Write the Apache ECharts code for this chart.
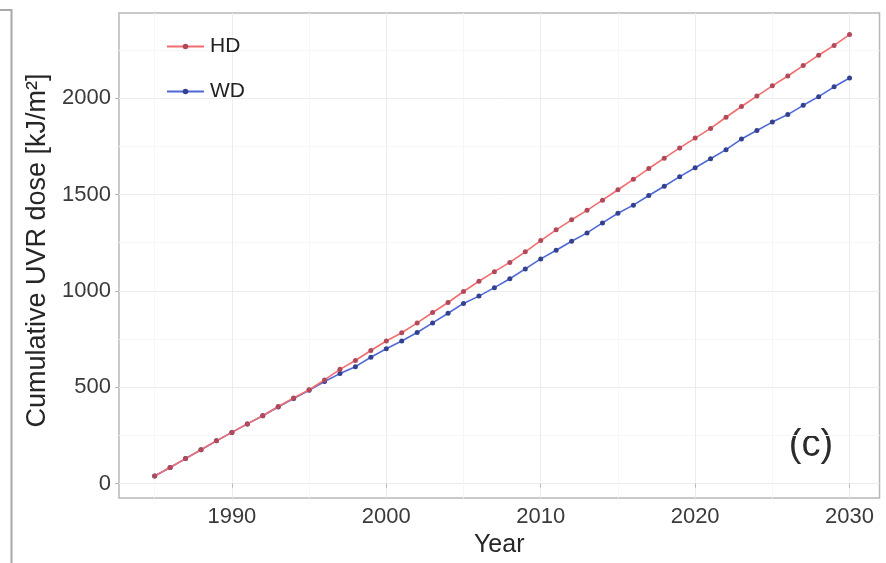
<!DOCTYPE html>
<html><head><meta charset="utf-8">
<script src="https://cdn.jsdelivr.net/npm/echarts@6/dist/echarts.min.js"></script>
<style>html,body{margin:0;padding:0;background:#fff}#c{width:886px;height:563px}</style>
</head><body><div id="c"></div>
<script>
const years = [1985,1986,1987,1988,1989,1990,1991,1992,1993,1994,1995,1996,1997,1998,1999,2000,2001,2002,2003,2004,2005,2006,2007,2008,2009,2010,2011,2012,2013,2014,2015,2016,2017,2018,2019,2020,2021,2022,2023,2024,2025,2026,2027,2028,2029,2030];
const hd = [40,84,130,176,222,266,310,352,400,444,487,538,593,639,691,740,783,834,888,940,997,1050,1100,1148,1203,1261,1317,1369,1418,1471,1525,1579,1635,1689,1742,1793,1843,1901,1957,2011,2064,2115,2169,2223,2274,2330];
const wd = [40,84,130,176,222,266,310,352,398,442,484,530,571,607,656,700,740,784,834,884,935,973,1017,1063,1114,1166,1211,1258,1301,1353,1403,1445,1495,1543,1593,1639,1686,1733,1788,1832,1876,1915,1963,2008,2059,2105];
const xMajorTicks = [1990,2000,2010,2020,2030];
const xMinorTicks = [1985,1995,2005,2015,2025];
const yMajorTicks = [0,500,1000,1500,2000];
const yMinorTicks = [250,750,1250,1750,2250];
const seriesNames = ['HD','WD'];

const font = 'Liberation Sans, Arial, Helvetica, sans-serif';
const xRange = [1982.69, 2031.94];
const yRange = [-75, 2442];
const chart = echarts.init(document.getElementById('c'), null, {renderer:'canvas'});
const pairs = arr => years.map((y,i)=>[y,arr[i]]);
const labelStyle = {fontFamily:font,fontSize:22,color:'#3a3a3a',formatter:v=>String(v)};
chart.setOption({
  animation:false,
  backgroundColor:'#ffffff',
  grid:{left:119,top:13,right:6.5,bottom:55,show:true,borderColor:'#b8b8b8',borderWidth:1.5,backgroundColor:'transparent'},
  legend:{
    orient:'vertical',left:166,top:36,padding:0,itemGap:24,itemWidth:37,itemHeight:7,
    data:seriesNames,
    textStyle:{fontFamily:font,fontSize:21,color:'#222',padding:[0,0,0,1]}
  },
  xAxis:[{
    type:'value',min:xRange[0],max:xRange[1],
    name:'Year',nameLocation:'middle',nameGap:31,
    nameTextStyle:{fontFamily:font,fontSize:25,color:'#262626'},
    axisLine:{show:false},
    axisTick:{show:true,length:4,customValues:xMajorTicks,lineStyle:{color:'#b8b8b8',width:1}},
    axisLabel:{customValues:xMajorTicks,margin:8,...labelStyle},
    splitLine:{show:true,lineStyle:{color:'#ececec',width:1}}
  },{
    type:'value',min:xRange[0],max:xRange[1],position:'top',
    axisLine:{show:false},
    axisTick:{show:false,customValues:xMinorTicks},
    axisLabel:{show:false,customValues:xMinorTicks},
    splitLine:{show:true,lineStyle:{color:'#f6f6f6',width:1}}
  }],
  yAxis:[{
    type:'value',min:yRange[0],max:yRange[1],
    name:'Cumulative UVR dose [kJ/m\u00b2]',nameLocation:'middle',nameGap:67,nameRotate:90,
    nameTextStyle:{fontFamily:font,fontSize:27,color:'#262626',padding:[0,0,0,10]},
    axisLine:{show:false},
    axisTick:{show:true,length:4,customValues:yMajorTicks,lineStyle:{color:'#b8b8b8',width:1}},
    axisLabel:{customValues:yMajorTicks,margin:8,...labelStyle},
    splitLine:{show:true,lineStyle:{color:'#ececec',width:1}}
  },{
    type:'value',min:yRange[0],max:yRange[1],position:'right',
    axisLine:{show:false},
    axisTick:{show:false,customValues:yMinorTicks},
    axisLabel:{show:false,customValues:yMinorTicks},
    splitLine:{show:true,lineStyle:{color:'#f6f6f6',width:1}}
  }],
  series:[{
    name:seriesNames[0],type:'line',xAxisIndex:0,yAxisIndex:0,data:pairs(hd),
    symbol:'circle',symbolSize:5,showSymbol:true,
    lineStyle:{color:'#f26d6f',width:1.6},
    itemStyle:{color:'#b2495a'},z:3
  },{
    name:seriesNames[1],type:'line',xAxisIndex:0,yAxisIndex:0,data:pairs(wd),
    symbol:'circle',symbolSize:5,showSymbol:true,
    lineStyle:{color:'#4f68d8',width:1.6},
    itemStyle:{color:'#34418f'},z:2
  }],
  graphic:[{
    type:'polyline',shape:{points:[[0,10],[11.5,10],[11.5,563]]},
    style:{stroke:'#a8a8a8',lineWidth:2,fill:null},silent:true
  },{
    type:'text',x:811,y:446,
    style:{text:'(c)',fontFamily:font,fontSize:38,fill:'#2b2b2b',align:'center',verticalAlign:'middle'}
  }]
});
</script></body></html>
